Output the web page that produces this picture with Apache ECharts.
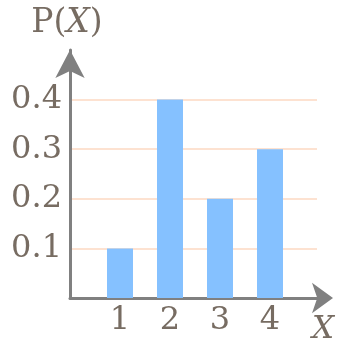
<!DOCTYPE html>
<html lang="en">
<head>
    <meta charset="UTF-8">
    <title>P(X)</title>
    <style>
        html, body { margin: 0; padding: 0; background: #fff; }
        #main { width: 338px; height: 350px; }
    </style>
</head>
<body>
<div id="main"></div>
<script src="https://cdn.jsdelivr.net/npm/echarts@6/dist/echarts.min.js"></script>
<script>
// X 的取值和对应概率
var xValues = [1, 2, 3, 4];
var probs = [0.1, 0.4, 0.2, 0.3];
var yTicks = [0.1, 0.2, 0.3, 0.4];

var serif = 'DejaVu Serif';
var labelColor = '#776c62';
var axisColor = '#808080';

function draw() {
    var myChart = echarts.init(document.getElementById('main'));

    var barData = [];
    for (var i = 0; i < xValues.length; i++) {
        barData.push([xValues[i], probs[i]]);
    }

    var option = {
        animation: false,
        grid: {left: 70, top: 50, width: 247, height: 248},
        xAxis: {
            type: 'value',
            min: 0,
            max: 4.94,
            interval: 1,
            name: 'X',
            nameLocation: 'end',
            nameGap: 6,
            nameTextStyle: {
                fontFamily: serif, fontSize: 31, fontStyle: 'italic', color: labelColor,
                align: 'center', verticalAlign: 'top', padding: [16, 0, 0, 0]
            },
            axisLine: {
                lineStyle: {color: axisColor, width: 3},
                symbol: ['none', 'arrow'],
                symbolSize: [23, 21],
                symbolOffset: [0, 16]
            },
            axisTick: {show: false},
            splitLine: {show: false},
            axisLabel: {
                showMinLabel: false,
                showMaxLabel: false,
                margin: 7,
                fontFamily: serif, fontSize: 32, color: labelColor,
                formatter: function (v) {
                    return xValues.indexOf(v) > -1 ? String(v) : '';
                }
            }
        },
        yAxis: {
            type: 'value',
            min: 0,
            max: 0.5,
            interval: 0.1,
            name: '{a|P(}{b|X}{a|)}',
            nameLocation: 'end',
            nameGap: 27,
            nameTextStyle: {
                align: 'center', verticalAlign: 'middle', padding: [0, 6, 0, 0],
                rich: {
                    a: {fontFamily: serif, fontSize: 33, color: labelColor},
                    b: {fontFamily: serif, fontSize: 33, fontStyle: 'italic', color: labelColor}
                }
            },
            axisLine: {
                lineStyle: {color: axisColor, width: 3},
                symbol: ['none', 'arrow'],
                symbolSize: [22, 28],
                symbolOffset: [0, 0]
            },
            axisTick: {show: false},
            splitLine: {
                show: true,
                showMinLine: false,
                showMaxLine: false,
                lineStyle: {color: '#fcd8c2', width: 1.5}
            },
            axisLabel: {
                showMinLabel: false,
                showMaxLabel: false,
                margin: 8,
                fontFamily: serif, fontSize: 32, color: labelColor,
                formatter: function (v) {
                    for (var k = 0; k < yTicks.length; k++) {
                        if (Math.abs(yTicks[k] - v) < 1e-9) return yTicks[k].toFixed(1);
                    }
                    return '';
                }
            }
        },
        series: [{
            type: 'bar',
            data: barData,
            barWidth: 26,
            itemStyle: {color: '#85c1ff'}
        }]
    };

    myChart.setOption(option);
}

window.onload = function () {
    draw();
};
</script>
</body>
</html>
